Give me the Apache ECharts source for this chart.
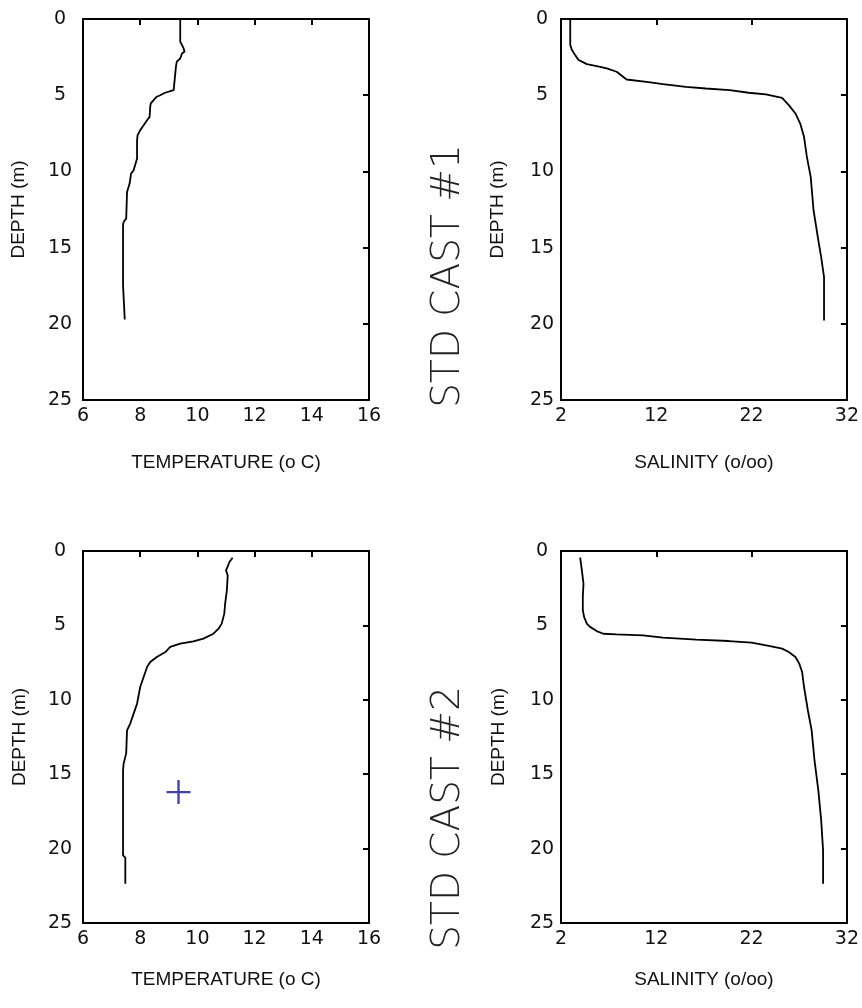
<!DOCTYPE html>
<html>
<head>
<meta charset="utf-8">
<script src="https://cdn.jsdelivr.net/npm/echarts@6/dist/echarts.min.js"></script>
<style>
html, body { margin: 0; padding: 0; background: #fff; }
#chart { width: 862px; height: 1008px; }
</style>
</head>
<body>
<div id="chart"></div>
<script>
// STD cast #1 - temperature profile
const cast1TempDepth = [0, 1.49, 1.6, 1.93, 2.15, 2.26, 2.59, 2.8, 3.13, 3.7, 3.75, 4.67, 4.84, 5.0, 5.1, 5.32, 5.54, 5.76, 6.42, 6.64, 6.97, 7.3, 7.62, 7.95, 9.16, 9.93, 10.14, 10.8, 11.35, 13.1, 13.32, 13.54, 17.48, 17.59, 19.72];
const cast1Temp      = [9.40, 9.40, 9.46, 9.52, 9.55, 9.46, 9.40, 9.28, 9.25, 9.22, 9.17, 9.17, 8.87, 8.70, 8.58, 8.47, 8.37, 8.35, 8.33, 8.24, 8.12, 8.0, 7.91, 7.89, 7.89, 7.77, 7.68, 7.63, 7.54, 7.51, 7.42, 7.40, 7.40, 7.46, 7.46];

// STD cast #1 - salinity profile
const cast1SalDepth = [0, 1.71, 1.82, 2.04, 2.37, 2.69, 2.8, 2.96, 3.09, 3.24, 3.46, 3.97, 4.12, 4.27, 4.45, 4.56, 4.67, 4.84, 4.95, 5.17, 5.65, 6.2, 6.86, 7.73, 9.05, 10.36, 12.55, 14.53, 15.62, 16.94, 19.78];
const cast1Sal      = [2.97, 2.97, 2.90, 3.15, 3.49, 3.84, 4.19, 4.71, 5.75, 6.80, 7.84, 8.88, 10.97, 12.7, 15.1, 17.2, 19.7, 21.7, 23.5, 25.2, 25.9, 26.6, 27.1, 27.5, 27.8, 28.2, 28.5, 29.0, 29.3, 29.6, 29.6];

// STD cast #2 - temperature profile
const cast2TempDepth = [0.45, 0.74, 1.08, 1.3, 1.64, 2.64, 3.54, 4.21, 4.88, 5.22, 5.56, 5.89, 6.07, 6.23, 6.45, 6.79, 7.12, 7.46, 7.8, 8.47, 9.14, 10.26, 10.93, 11.6, 12.05, 13.6, 14.29, 14.74, 20.45, 20.6, 22.36];
const cast2Temp      = [11.23, 11.12, 11.05, 11.0, 11.06, 11.03, 10.97, 10.94, 10.85, 10.74, 10.56, 10.21, 9.86, 9.40, 9.05, 8.88, 8.58, 8.35, 8.24, 8.12, 8.0, 7.89, 7.77, 7.65, 7.54, 7.51, 7.42, 7.40, 7.40, 7.48, 7.48];

// STD cast #2 - salinity profile
const cast2SalDepth = [0.45, 1.3, 2.2, 3.09, 3.99, 4.44, 4.88, 5.1, 5.38, 5.56, 5.6, 5.67, 5.82, 5.96, 6.05, 6.16, 6.38, 6.56, 6.79, 7.12, 7.57, 8.13, 9.14, 10.7, 12.05, 14.07, 16.08, 18.1, 20.12, 22.36];
const cast2Sal      = [4.01, 4.19, 4.36, 4.29, 4.29, 4.43, 4.71, 5.05, 5.75, 6.44, 7.83, 10.6, 12.7, 16.2, 19.6, 22.0, 23.8, 25.2, 25.9, 26.6, 27.0, 27.3, 27.5, 27.9, 28.3, 28.6, 29.0, 29.3, 29.5, 29.5];

// single marked point on cast #2 temperature panel
const markerTemp  = [9.34];
const markerDepth = [16.2];

const castTitles = ['STD CAST #1', 'STD CAST #2'];

const pairs = (xs, ys) => xs.map((x, i) => [x, ys[i]]);

const panels = [
    { grid: { left: 83, top: 19, width: 286, height: 381 }, xMin: 6, xMax: 16, xInt: 2, xName: 'TEMPERATURE (o C)', xGap: 53, yMargin: 23, yGap: 55 },
    { grid: { left: 561, top: 19, width: 287, height: 381 }, xMin: 2, xMax: 32, xInt: 10, xName: 'SALINITY (o/oo)', xGap: 53, yMargin: 19, yGap: 54 },
    { grid: { left: 83, top: 551, width: 286, height: 372 }, xMin: 6, xMax: 16, xInt: 2, xName: 'TEMPERATURE (o C)', xGap: 47, yMargin: 23, yGap: 54 },
    { grid: { left: 561, top: 551, width: 288, height: 372 }, xMin: 2, xMax: 32, xInt: 10, xName: 'SALINITY (o/oo)', xGap: 47, yMargin: 19, yGap: 53 }
];

const profiles = [
    pairs(cast1Temp, cast1TempDepth),
    pairs(cast1Sal, cast1SalDepth),
    pairs(cast2Temp, cast2TempDepth),
    pairs(cast2Sal, cast2SalDepth)
];

const lineCol = '#000';
const tickFont = { fontFamily: 'DejaVu Sans', fontSize: 19, color: '#111' };
const nameFont = { fontFamily: 'Liberation Sans', fontSize: 19, color: '#111' };

const grids = [], xAxes = [], yAxes = [], series = [];

panels.forEach((p, i) => {
    grids.push(p.grid);
    // bottom axis with labels
    xAxes.push({
        type: 'value', gridIndex: i, position: 'bottom',
        min: p.xMin, max: p.xMax, interval: p.xInt,
        name: p.xName, nameLocation: 'middle', nameGap: p.xGap, nameTextStyle: nameFont,
        axisLine: { show: true, onZero: false, lineStyle: { color: lineCol, width: 2 } },
        axisTick: { show: false },
        axisLabel: Object.assign({ margin: 7 }, tickFont),
        splitLine: { show: false }
    });
    // top axis: inward ticks only
    xAxes.push({
        type: 'value', gridIndex: i, position: 'top',
        min: p.xMin, max: p.xMax, interval: p.xInt,
        axisLine: { show: true, onZero: false, lineStyle: { color: lineCol, width: 2 } },
        axisTick: { show: true, inside: true, length: 6, lineStyle: { color: lineCol, width: 2 } },
        axisLabel: { show: false },
        splitLine: { show: false }
    });
    // left depth axis with labels
    yAxes.push({
        type: 'value', gridIndex: i, position: 'left', inverse: true,
        min: 0, max: 25, interval: 5,
        name: 'DEPTH (m)', nameLocation: 'middle', nameGap: p.yGap, nameTextStyle: nameFont,
        axisLine: { show: true, onZero: false, lineStyle: { color: lineCol, width: 2 } },
        axisTick: { show: false },
        axisLabel: Object.assign({ margin: p.yMargin, align: 'center' }, tickFont),
        splitLine: { show: false }
    });
    // right axis: inward ticks only
    yAxes.push({
        type: 'value', gridIndex: i, position: 'right', inverse: true,
        min: 0, max: 25, interval: 5,
        axisLine: { show: true, onZero: false, lineStyle: { color: lineCol, width: 2 } },
        axisTick: { show: true, inside: true, length: 6, lineStyle: { color: lineCol, width: 2 } },
        axisLabel: { show: false },
        splitLine: { show: false }
    });
    series.push({
        type: 'line', xAxisIndex: 2 * i, yAxisIndex: 2 * i,
        data: profiles[i], showSymbol: false, symbol: 'none',
        lineStyle: { color: lineCol, width: 1.8 },
        animation: false
    });
});

series.push({
    type: 'scatter', xAxisIndex: 4, yAxisIndex: 4,
    data: pairs(markerTemp, markerDepth),
    symbol: 'path://M11,0h2.4v11h11v2.4h-11v11h-2.4v-11h-11v-2.4h11z',
    symbolSize: 24,
    itemStyle: { color: '#14148a' },
    animation: false
});

const castText = (text, x, y) => ({
    type: 'text', x: x, y: y, rotation: Math.PI / 2,
    style: {
        text: text, fill: '#222',
        font: '200 39px "DejaVu Sans"',
        textAlign: 'center', textVerticalAlign: 'middle'
    }
});

const chart = echarts.init(document.getElementById('chart'));
chart.setOption({
    backgroundColor: '#fff',
    animation: false,
    grid: grids,
    xAxis: xAxes,
    yAxis: yAxes,
    series: series,
    graphic: [
        castText(castTitles[0], 449, 276),
        castText(castTitles[1], 449, 818)
    ]
});
</script>
</body>
</html>
